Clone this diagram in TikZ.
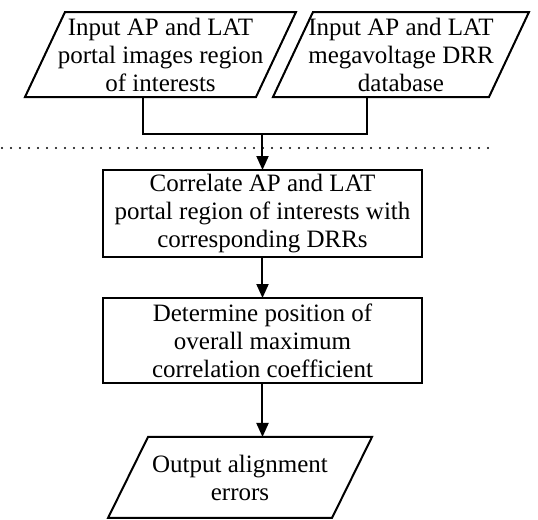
\documentclass[tikz,border=0pt]{standalone}
\usepackage{fontspec}
\setmainfont{Liberation Serif}
\usetikzlibrary{arrows.meta,calc}
\newcommand\ioframe[2]{\draw[frame] ($(#1.north west)+(#2,0)$) -- ($(#1.north east)+(#2,0)$)
  -- ($(#1.south east)+(-#2,0)$) -- ($(#1.south west)+(-#2,0)$) -- cycle;}
\begin{document}
\begin{tikzpicture}[x=0.5pt,y=-0.5pt,
  every node/.style={font=\fontsize{12.5}{14}\selectfont, align=center, inner sep=0pt, outer sep=0pt},
  frame/.style={line width=1pt},
  iobox/.style={rectangle, minimum height=42.5pt},
  procbox/.style={draw, line width=1pt, rectangle, minimum width=159.5pt, minimum height=43.5pt},
  link/.style={line width=1pt},
  arr/.style={link, -{Triangle[length=7pt,width=6pt]}},
  sepline/.style={line width=1.2pt, line cap=round, dash pattern=on 0pt off 4.5pt}
]
\useasboundingbox (0,0) rectangle (538,520);

\node[iobox, minimum width=115.5pt] (lp) at (160.5,54.5)
  {Input AP and LAT\\portal images region\\of interests};
\node[iobox, minimum width=108pt] (rp) at (401,54.5)
  {Input AP and LAT\\megavoltage DRR\\database};
\ioframe{lp}{20}
\ioframe{rp}{20}

\node[procbox] (b1) at (262.5,213.5)
  {Correlate AP and LAT\\portal region of interests with\\corresponding DRRs};
\node[procbox, minimum height=42.5pt] (b2) at (262.5,340.5)
  {Determine position of\\overall maximum\\correlation coefficient};
\node[iobox, minimum width=112pt, minimum height=40.5pt] (out) at (240,477.5)
  {Output alignment\\errors};
\ioframe{out}{20}

\coordinate (ld) at ($(lp.south)+(-17.5,0)$);
\coordinate (rd) at ($(rp.south)+(-34,0)$);
\coordinate (jn) at ($(b1.north)+(0,-36)$);

\draw[link] (ld) |- (jn) -| (rd);
\draw[arr] (jn) -- (b1.north);
\draw[arr] (b1.south) -- (b2.north);
\draw[arr] (b2.south) -- (b2.south |- out.north);

\draw[sepline] (2,148) -- (497,148);
\end{tikzpicture}
\end{document}
